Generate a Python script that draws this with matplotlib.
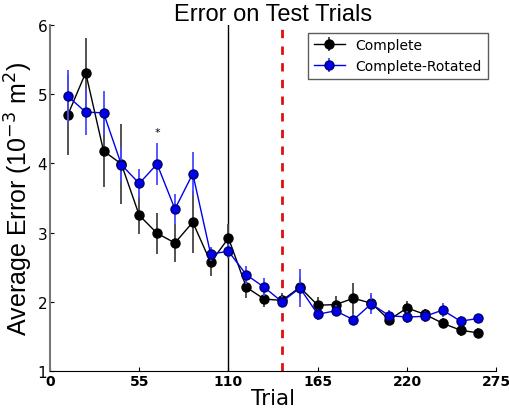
import numpy as np
import matplotlib
matplotlib.use('Agg')
import matplotlib.pyplot as plt

trials = [11 * k for k in range(1, 25)]

complete = [4.70, 5.31, 4.18, 3.99, 3.25, 2.99, 2.85, 3.15, 2.57, 2.92, 2.21, 2.04,
            2.02, 2.21, 1.95, 1.96, 2.05, 1.98, 1.74, 1.91, 1.82, 1.69, 1.59, 1.55]
complete_err = [0.58, 0.50, 0.52, 0.58, 0.27, 0.30, 0.27, 0.45, 0.20, 0.20, 0.16, 0.12,
                0.10, 0.15, 0.12, 0.13, 0.22, 0.12, 0.08, 0.10, 0.08, 0.07, 0.08, 0.07]
rotated = [4.97, 4.74, 4.73, 3.98, 3.71, 3.99, 3.34, 3.85, 2.69, 2.73, 2.39, 2.21,
           2.00, 2.20, 1.82, 1.87, 1.74, 1.97, 1.80, 1.78, 1.79, 1.88, 1.72, 1.76]
rotated_err = [0.38, 0.33, 0.32, 0.25, 0.21, 0.30, 0.22, 0.31, 0.10, 0.10, 0.13, 0.13,
               0.08, 0.28, 0.08, 0.08, 0.08, 0.15, 0.08, 0.08, 0.08, 0.10, 0.07, 0.07]

xticks = [0, 55, 110, 165, 220, 275]
yticks = [1, 2, 3, 4, 5, 6]

fig = plt.figure(figsize=(5.1, 4.14), dpi=100)
ax = fig.add_axes([0.098, 0.1014, 0.875, 0.836])

ax.axvline(110, color='black', lw=1)
ax.axvline(143, color='#dd1111', lw=2, ls=(0, (3, 3)))

ax.errorbar(trials, complete, yerr=complete_err, color='black', ecolor='#444444',
            marker='o', ms=6.5, lw=1, elinewidth=1.3, capsize=0, label='Complete', zorder=3)
ax.errorbar(trials, rotated, yerr=rotated_err, color='#0000ee', ecolor='#4a4aff',
            mfc='#0000ee', mec='#000066', marker='o', ms=6.5, lw=1, elinewidth=1.3,
            capsize=0, label='Complete-Rotated', zorder=4)

ax.text(66, 4.45, '*', ha='center', va='center', fontsize=8)

ax.set_xlim(0, 275)
ax.set_ylim(1, 6)
ax.set_xticks(xticks)
ax.set_yticks(yticks)
ax.set_xticklabels([str(t) for t in xticks], fontweight='bold', fontsize=10)
ax.set_yticklabels([str(t) for t in yticks], fontsize=11)
ax.tick_params(direction='in', length=3, pad=2)

for s in ['top', 'right']:
    ax.spines[s].set_visible(False)
ax.spines['left'].set_color('#777777')
ax.spines['left'].set_linewidth(1.5)

ax.set_title('Error on Test Trials', fontsize=17, family='Liberation Sans', pad=3)
ax.set_ylabel('Average Error (10$^{-3}$ m$^2$)', fontsize=18, family='Liberation Sans', labelpad=2)
ax.set_xlabel('Trial', fontsize=15.5, labelpad=0)

leg = ax.legend(loc='upper right', bbox_to_anchor=(0.99, 0.99), fontsize=10, frameon=True,
                fancybox=False, edgecolor='#333333', borderaxespad=0.3, handlelength=2.2)
leg.get_frame().set_linewidth(1)

fig.savefig('out.png', dpi=100)
